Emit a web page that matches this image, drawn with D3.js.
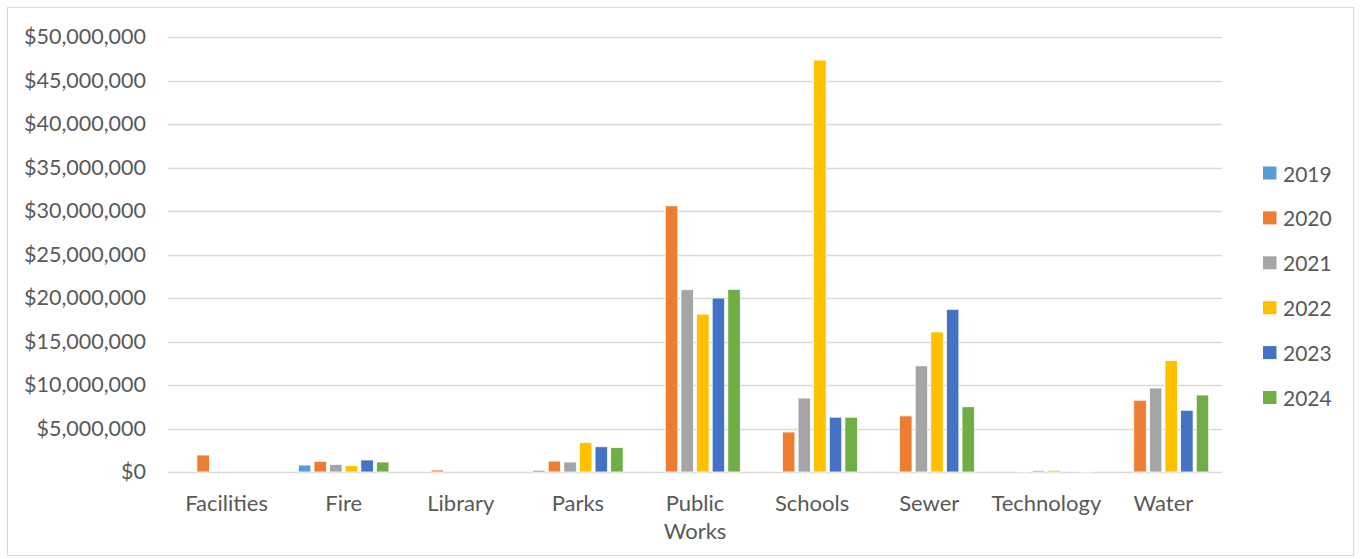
<!DOCTYPE html>
<html lang="en">
  <head>
    <meta charset="utf-8">
    <title>Capital spending by department</title>
    <script src="https://cdn.jsdelivr.net/npm/d3@7"></script>
    <style>
      body { margin: 0; background: #fff; }
      text { font-family: Lato, "Open Sans", sans-serif; fill: #595959; }
    </style>
  </head>
  <body>
    <script>
      // data
      var categories = ["Facilities", "Fire", "Library", "Parks", "Public Works", "Schools", "Sewer", "Technology", "Water"];
      var years = ["2019", "2020", "2021", "2022", "2023", "2024"];
      var v2019 = [0, 800000, 0, 200000, 0, 0, 0, 0, 0];
      var v2020 = [1950000, 1230000, 230000, 1260000, 30600000, 4600000, 6450000, 80000, 8250000];
      var v2021 = [0, 880000, 0, 1150000, 20950000, 8500000, 12200000, 180000, 9650000];
      var v2022 = [0, 730000, 0, 3400000, 18150000, 47350000, 16100000, 200000, 12800000];
      var v2023 = [0, 1380000, 0, 2900000, 20000000, 6300000, 18700000, 0, 7100000];
      var v2024 = [0, 1150000, 0, 2800000, 21000000, 6300000, 7500000, 50000, 8850000];
      var yTicks = [0, 5e6, 10e6, 15e6, 20e6, 25e6, 30e6, 35e6, 40e6, 45e6, 50e6];
      var colors = ["#5b9bd5", "#ed7d31", "#a5a5a5", "#ffc000", "#4472c4", "#70ad47"];

      var series = [v2019, v2020, v2021, v2022, v2023, v2024];

      var w = 1360, h = 559;
      var plotLeft = 168, plotRight = 1222, plotTop = 37, plotBottom = 472;

      var svg = d3.select("body").append("svg")
        .attr("width", w)
        .attr("height", h);

      // chart border
      svg.append("rect")
        .attr("x", 7.5).attr("y", 7.5)
        .attr("width", 1346).attr("height", 548)
        .attr("fill", "none")
        .attr("stroke", "#d9d9d9");

      var x = d3.scaleBand().domain(categories).range([plotLeft, plotRight]);
      var x1 = d3.scaleBand().domain(years).range([0, x.bandwidth()]).paddingInner(0.2).paddingOuter(0.85);
      var y = d3.scaleLinear().domain([0, 50e6]).range([plotBottom, plotTop]);

      // gridlines
      svg.append("g").selectAll("line")
        .data(yTicks)
        .enter()
        .append("line")
        .attr("x1", plotLeft).attr("x2", plotRight)
        .attr("y1", function(d) { return Math.round(y(d)) + 0.5; })
        .attr("y2", function(d) { return Math.round(y(d)) + 0.5; })
        .attr("stroke", "#d9d9d9")
        .attr("stroke-width", 1.3);

      // y axis labels
      var yAxis = d3.axisLeft(y)
        .tickValues(yTicks)
        .tickSize(0)
        .tickPadding(0)
        .tickFormat(function(d) { return "$" + d3.format(",")(d); });
      var gy = svg.append("g")
        .attr("transform", "translate(146,0)")
        .call(yAxis);
      gy.select(".domain").remove();
      gy.selectAll("text")
        .attr("font-size", "21.5px")
        .style("font-family", "Lato, 'Open Sans', sans-serif")
        .attr("fill", "#595959");

      // bars
      var groups = svg.append("g").selectAll("g")
        .data(categories)
        .enter()
        .append("g")
        .attr("transform", function(d) { return "translate(" + x(d) + ",0)"; });

      groups.selectAll("rect")
        .data(function(d, i) {
          return years.map(function(yr, j) { return { year: yr, value: series[j][i], c: colors[j] }; });
        })
        .enter()
        .append("rect")
        .filter(function(d) { return d.value > 0; })
        .attr("x", function(d) { return x1(d.year); })
        .attr("width", x1.bandwidth())
        .attr("y", function(d) { return y(d.value); })
        .attr("height", function(d) { return y(0) - y(d.value); })
        .attr("fill", function(d) { return d.c; })
        .attr("stroke", "#fff")
        .attr("stroke-width", 0.8);

      // x labels
      svg.append("g").selectAll("text")
        .data(categories)
        .enter()
        .append("text")
        .attr("x", function(d) { return x(d) + x.bandwidth() / 2; })
        .attr("y", 511)
        .attr("text-anchor", "middle")
        .attr("font-size", "22px")
        .each(function(d) {
          var t = d3.select(this);
          var parts = d === "Public Works" ? ["Public", "Works"] : [d];
          parts.forEach(function(p, k) {
            t.append("tspan")
              .attr("x", x(d) + x.bandwidth() / 2)
              .attr("dy", k === 0 ? 0 : 28)
              .text(p);
          });
        });

      // legend
      var legend = svg.append("g").selectAll("g")
        .data(years)
        .enter()
        .append("g")
        .attr("transform", function(d, i) { return "translate(1263," + (173 + i * 44.9) + ")"; });
      legend.append("rect")
        .attr("x", 0).attr("y", -6.5)
        .attr("width", 13.5).attr("height", 13)
        .attr("fill", function(d, i) { return colors[i]; });
      legend.append("text")
        .attr("x", 20).attr("y", 8.5)
        .attr("font-size", "21px")
        .text(function(d) { return d; });
    </script>
  </body>
</html>
